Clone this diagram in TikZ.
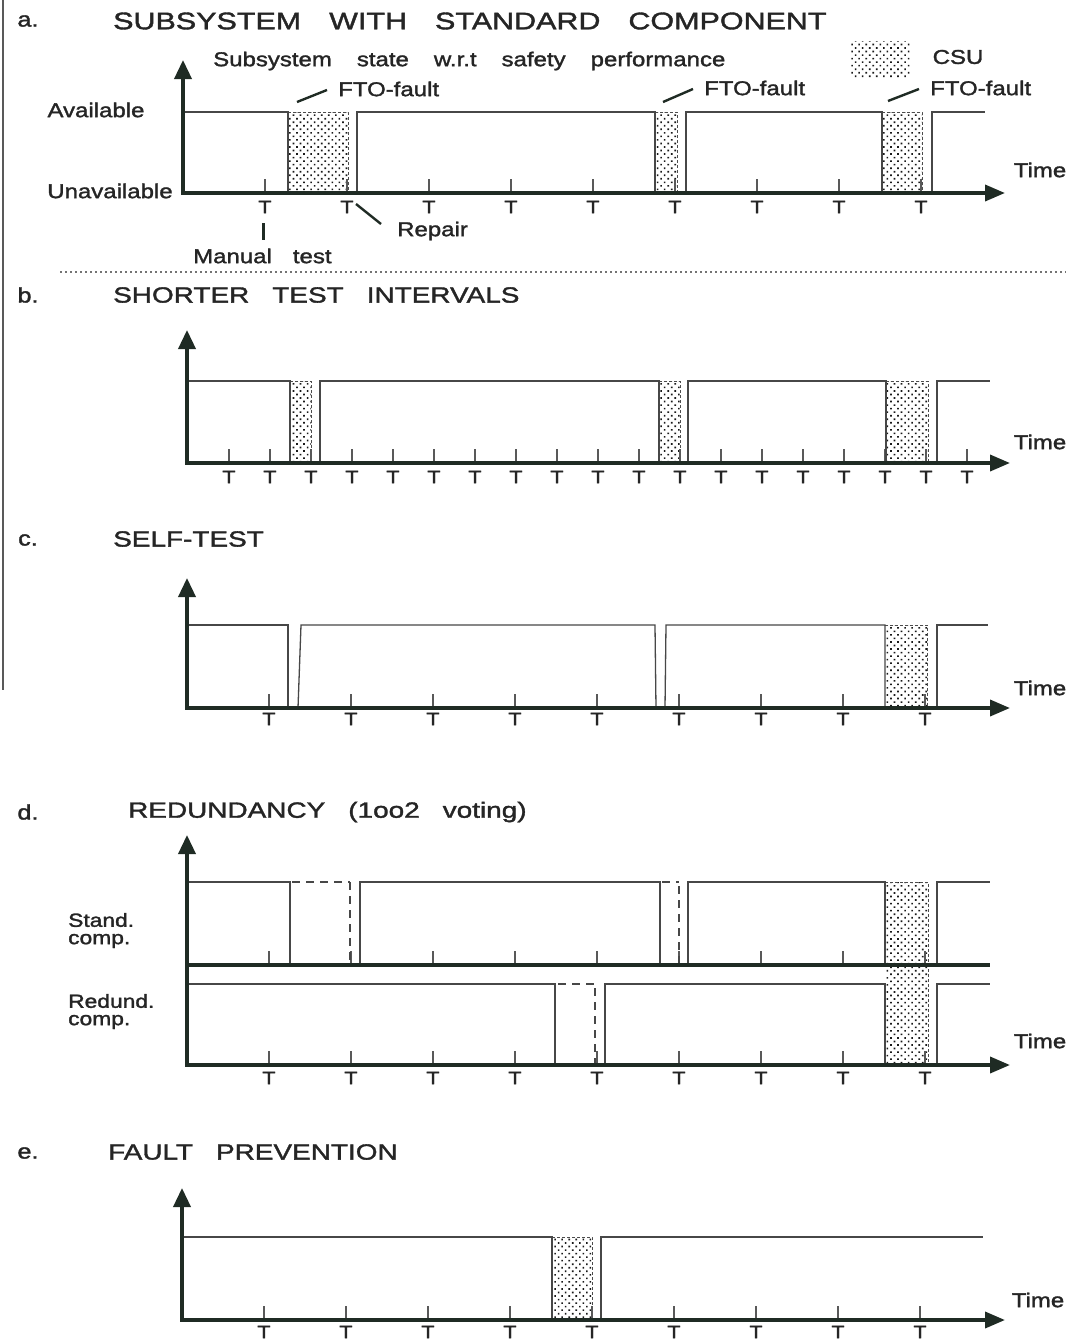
\documentclass[tikz,border=0pt]{standalone}
\usepackage{fontspec}
\setmainfont[FakeStretch=1.2,FakeBold=1.6]{Liberation Sans}
\newfontfamily\ttlfont[FakeStretch=1.27,FakeBold=1.6]{Liberation Sans}
\usetikzlibrary{patterns.meta,arrows.meta}
\definecolor{axc}{HTML}{1F2B24}
\definecolor{txt}{HTML}{252525}
\tikzset{
  axisline/.style={line width=3.6pt, draw=axc, line join=miter,
    {Triangle[length=19pt,width=17pt]}-{Triangle[length=20pt,width=16pt]}},
  baseline/.style={line width=3.2pt, draw=axc},
  wave/.style={line width=1.3pt, draw=black!72},
  dwave/.style={line width=1.2pt, draw=black!72, dash pattern=on 8pt off 6pt},
  tickm/.style={line width=1.1pt, draw=black!65},
  tl/.style={font=\fontsize{18}{18}\selectfont, text=txt, inner sep=0pt},
  csu/.style={pattern={Dots[distance=5pt,radius=1.15pt,angle=45]}, pattern color=black!90},
  csuedge/.style={line width=0.9pt, draw=black!70, dash pattern=on 3pt off 2pt},
  ttl/.style={font=\ttlfont\fontsize{24}{24}\selectfont, text=txt, anchor=west, inner sep=0pt},
  ttlb/.style={font=\ttlfont\fontsize{22}{22}\selectfont, text=txt, anchor=west, inner sep=0pt},
  lab/.style={font=\fontsize{20}{20}\selectfont, text=txt, inner sep=0pt},
  small/.style={font=\fontsize{19}{19}\selectfont, text=txt, inner sep=0pt},
  pl/.style={font=\fontsize{21}{21}\selectfont, text=txt, inner sep=0pt},
  leader/.style={line width=2.4pt, draw=axc},
}
\newcommand{\gap}{\hspace{28pt}}
\newcommand{\gapb}{\hspace{23pt}}
\newcommand{\wg}{\hspace{25pt}}
\begin{document}
\begin{tikzpicture}[x=1pt,y=-1pt]
\useasboundingbox (0,0) rectangle (1066,1342);
\fill[white] (0,0) rectangle (1066,1342);
% left border
\draw[line width=1.6pt, draw=black!65] (3,0) -- (3,690);
% separator
\draw[line width=1.3pt, draw=black!55, dash pattern=on 1.5pt off 3.5pt] (60,272) -- (1066,272);

% ================= panel a =================
\node[pl] (la) at (28,21) {a.};
\node[ttl] (ta) at (113,21) {SUBSYSTEM\gap WITH\gap STANDARD\gap COMPONENT};
\node[lab, anchor=west] (subt) at (213,61) {Subsystem\wg state\wg w.r.t\wg safety\wg performance};
\fill[csu] (850,41) rectangle (910,77);
\node[lab] (csul) at (958,57) {CSU};
\node[lab] (avl) at (96,110) {Available};
\node[lab] (unl) at (110,191) {Unavailable};
\node[lab] (tia) at (1040,170) {Time};
\fill[csu] (288,112) rectangle (348,193);
\fill[csu] (655,112) rectangle (677,193);
\fill[csu] (882,112) rectangle (922,193);
\draw[csuedge] (288,112) -- (348,112) -- (348,193);
\draw[csuedge] (655,112) -- (677,112) -- (677,193);
\draw[csuedge] (882,112) -- (922,112) -- (922,193);
\foreach \k in {0,...,8}{
  \pgfmathtruncatemacro{\x}{265+82*\k}
  \draw[tickm] (\x,193) -- (\x,179);
  \node[tl] (Ta\k) at (\x,207) {T};
}
\draw[wave] (183,112) -- (288,112) -- (288,193);
\draw[wave] (357,193) -- (357,112) -- (655,112) -- (655,193);
\draw[wave] (686,193) -- (686,112) -- (882,112) -- (882,193);
\draw[wave] (932,193) -- (932,112) -- (985,112);
\draw[axisline] (183,60) -- (183,193) -- (1005,193);
% FTO labels
\node[lab, anchor=west] (f1) at (338,89) {FTO-fault};
\node[lab, anchor=west] (f2) at (704,88) {FTO-fault};
\node[lab, anchor=west] (f3) at (930,88) {FTO-fault};
\coordinate (f1p) at (297,102);
\coordinate (f2p) at (663,102);
\coordinate (f3p) at (888,101);
\draw[leader] (f1p) -- (327,90);
\draw[leader] (f2p) -- (693,89);
\draw[leader] (f3p) -- (919,89);
% repair / manual test
\node[lab, anchor=west] (rep) at (397,231) {Repair};
\coordinate (repp) at (356,204);
\draw[leader] (repp) -- (381,224);
\node[lab, anchor=west] (mt) at (193,256) {Manual\hspace{21pt}test};
\coordinate (mtp) at (263,223);
\draw[line width=3pt, draw=axc] (mtp) -- (263,240);

% ================= panel b =================
\node[pl] (lb) at (28,295) {b.};
\node[ttlb] (tb) at (113,295) {SHORTER\gapb TEST\gapb INTERVALS};
\node[lab] (tib) at (1040,442) {Time};
\fill[csu] (290,381) rectangle (311,463);
\fill[csu] (659,381) rectangle (680,463);
\fill[csu] (886,381) rectangle (928,463);
\draw[csuedge] (290,381) -- (311,381) -- (311,463);
\draw[csuedge] (659,381) -- (680,381) -- (680,463);
\draw[csuedge] (886,381) -- (928,381) -- (928,463);
\foreach \k in {0,...,18}{
  \pgfmathtruncatemacro{\x}{229+41*\k}
  \draw[tickm] (\x,463) -- (\x,449);
  \node[tl] (Tb\k) at (\x,477) {T};
}
\draw[wave] (187,381) -- (290,381) -- (290,463);
\draw[wave] (320,463) -- (320,381) -- (659,381) -- (659,463);
\draw[wave] (688,463) -- (688,381) -- (886,381) -- (886,463);
\draw[wave] (937,463) -- (937,381) -- (990,381);
\draw[axisline] (187,330) -- (187,463) -- (1010,463);

% ================= panel c =================
\node[pl] (lc) at (28,540) {c.};
\node[ttlb] (tc) at (113,539) {SELF-TEST};
\node[lab] (tic) at (1040,688) {Time};
\fill[csu] (885,625) rectangle (927,708);
\draw[csuedge] (885,625) -- (927,625) -- (927,708);
\foreach \k in {0,...,8}{
  \pgfmathtruncatemacro{\x}{269+82*\k}
  \draw[tickm] (\x,708) -- (\x,694);
  \node[tl] (Tc\k) at (\x,719) {T};
}
\draw[wave] (187,625) -- (288,625) -- (288,708);
\draw[wave] (298,708) -- (301,625) -- (655,625) -- (656,708);
\draw[wave] (665,708) -- (666,625) -- (885,625) -- (885,708);
\draw[wave] (937,708) -- (937,625) -- (988,625);
\draw[axisline] (187,578) -- (187,708) -- (1010,708);

% ================= panel d =================
\node[pl] (ld) at (28,812) {d.};
\node[ttlb] (td) at (128,812) {REDUNDANCY\gapb (1oo2\gapb voting)};
\node[small, anchor=west] (sd1) at (68,920) {Stand.};
\node[small, anchor=west] (sd2) at (68,941) {comp.};
\node[small, anchor=west] (rd1) at (68,1001) {Redund.};
\node[small, anchor=west] (rd2) at (68,1022) {comp.};
\node[lab] (tid) at (1040,1041) {Time};
\fill[csu] (885,882) rectangle (928,1065);
\draw[csuedge] (885,882) -- (928,882) -- (928,1065);
\foreach \k in {0,...,8}{
  \pgfmathtruncatemacro{\x}{269+82*\k}
  \draw[tickm] (\x,965) -- (\x,951);
  \draw[tickm] (\x,1065) -- (\x,1051);
  \node[tl] (Td\k) at (\x,1078) {T};
}
% standard component
\draw[wave] (187,882) -- (290,882) -- (290,965);
\draw[dwave] (292,882) -- (350,882);
\draw[dwave] (350,882) -- (350,965);
\draw[wave] (360,965) -- (360,882) -- (660,882) -- (660,965);
\draw[dwave] (662,882) -- (679,882);
\draw[dwave] (679,886) -- (679,965);
\draw[wave] (688,965) -- (688,882) -- (885,882) -- (885,965);
\draw[wave] (937,965) -- (937,882) -- (990,882);
\draw[baseline] (187,965) -- (990,965);
% redundant component
\draw[wave] (187,984) -- (555,984) -- (555,1065);
\draw[dwave] (558,984) -- (595,984);
\draw[dwave] (595,988) -- (595,1065);
\draw[wave] (605,1065) -- (605,984) -- (885,984) -- (885,1065);
\draw[wave] (937,1065) -- (937,984) -- (990,984);
\draw[axisline] (187,835) -- (187,1065) -- (1010,1065);

% ================= panel e =================
\node[pl] (le) at (28,1153) {e.};
\node[ttlb] (te) at (108,1152) {FAULT\gapb PREVENTION};
\node[lab] (tie) at (1038,1300) {Time};
\fill[csu] (552,1237) rectangle (592,1320);
\draw[csuedge] (552,1237) -- (592,1237) -- (592,1320);
\foreach \k in {0,...,8}{
  \pgfmathtruncatemacro{\x}{264+82*\k}
  \draw[tickm] (\x,1320) -- (\x,1306);
  \node[tl] (Te\k) at (\x,1332) {T};
}
\draw[wave] (182,1237) -- (552,1237) -- (552,1320);
\draw[wave] (601,1320) -- (601,1237) -- (983,1237);
\draw[axisline] (182,1188) -- (182,1320) -- (1005,1320);
\end{tikzpicture}
\end{document}
